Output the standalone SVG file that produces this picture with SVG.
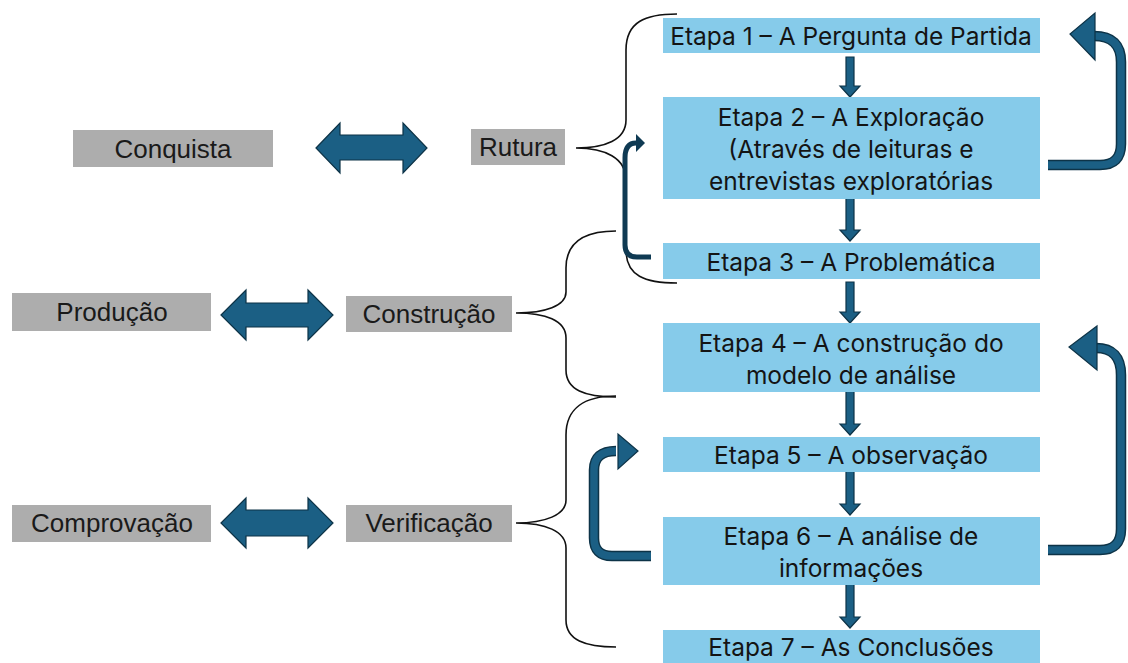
<svg xmlns="http://www.w3.org/2000/svg" width="1128" height="663" viewBox="0 0 1128 663">
<style>
.blue{fill:#86CBEA}
.grey{fill:#ADADAD}
.bt{font-family:Inter,"Open Sans",sans-serif;font-size:24.5px;fill:#141414;text-anchor:middle;dominant-baseline:central}
.gt{font-family:"Liberation Sans",Arial,sans-serif;font-size:26px;fill:#1a1a1a;text-anchor:middle;dominant-baseline:central}
.brace{fill:none;stroke:#111;stroke-width:1.6}
.arr{fill:#1b5f84;stroke:#0d3347;stroke-width:1.2;stroke-linejoin:miter}
.lo{fill:none;stroke:#0d3347;stroke-width:10.5}
.li{fill:none;stroke:#1b5f84;stroke-width:7.5}
.thin{fill:none;stroke:#0f3a53;stroke-width:5}
</style>
<rect width="1128" height="663" fill="#fff"/>
<g id="connectors">
<path class="brace" d="M677,14 C645,14 626,22 626,50 L626,120 C626,140 605,148 576,148 C605,148 626,158 626,180 L626,250 C626,276 645,283 677,283"/>
<path class="brace" d="M616,231 C585,231 566,242 566,268 L566,292 C566,306 545,313 516,313 C545,313 566,320 566,338 L566,370 C566,390 585,397 616,397"/>
<path class="brace" d="M616,396 C585,396 566,408 566,435 L566,500 C566,515 545,523 516,523 C545,523 566,531 566,548 L566,620 C566,640 585,647 616,647"/>
<polygon class="arr" points="316,148 340,123 340,135 403,135 403,123 427,148 403,173 403,160 340,160 340,173"/>
<polygon class="arr" points="221,315 246,290 246,303 308,303 308,290 333,315 308,340 308,327 246,327 246,340"/>
<polygon class="arr" points="221,523 246,498 246,510 308,510 308,498 333,523 308,548 308,536 246,536 246,548"/>
<polygon class="arr" points="846,57 854,57 854,86 860,86 850,97 840,86 846,86"/>
<polygon class="arr" points="846,196 854,196 854,230 860,230 850,241 840,230 846,230"/>
<polygon class="arr" points="846,282 854,282 854,312 860,312 850,323 840,312 846,312"/>
<polygon class="arr" points="846,390 854,390 854,424 860,424 850,435 840,424 846,424"/>
<polygon class="arr" points="846,469 854,469 854,504 860,504 850,515 840,504 846,504"/>
<polygon class="arr" points="846,582 854,582 854,617 860,617 850,628 840,617 846,617"/>
<path class="lo" d="M1048,165 H1100 Q1121,165 1121,144 V62 Q1121,36 1094,36"/>
<path class="li" d="M1048,165 H1100 Q1121,165 1121,144 V62 Q1121,36 1094,36"/>
<polygon class="arr" points="1095,13 1095,60 1070,34"/>
<path class="lo" d="M1048,550 H1100 Q1121,550 1121,529 V375 Q1121,348 1096,348"/>
<path class="li" d="M1048,550 H1100 Q1121,550 1121,529 V375 Q1121,348 1096,348"/>
<polygon class="arr" points="1097,326 1097,370 1069,347"/>
<path class="lo" d="M651,556 H612 Q594,556 594,538 V470 Q594,451 616,451"/>
<path class="li" d="M651,556 H612 Q594,556 594,538 V470 Q594,451 616,451"/>
<polygon class="arr" points="618,434 618,469 638,451"/>
<path class="thin" d="M651,257 H637 Q625,257 625,245 V158 Q625,143 636,143"/>
<polygon fill="#0f3a53" points="636,134 636,152 645,143"/>
</g>
<g id="conquista"><rect class="grey" x="73" y="130" width="200" height="37"/><text class="gt" x="173" y="149">Conquista</text></g>
<g id="rutura"><rect class="grey" x="471" y="129" width="94" height="36"/><text class="gt" x="518" y="147">Rutura</text></g>
<g id="producao"><rect class="grey" x="12" y="293" width="199" height="38"/><text class="gt" x="112" y="312">Produção</text></g>
<g id="construcao"><rect class="grey" x="346" y="296" width="166" height="36"/><text class="gt" x="429" y="314">Construção</text></g>
<g id="comprovacao"><rect class="grey" x="12" y="505" width="199" height="37"/><text class="gt" x="112" y="523">Comprovação</text></g>
<g id="verificacao"><rect class="grey" x="346" y="505" width="166" height="37"/><text class="gt" x="429" y="523">Verificação</text></g>
<g id="etapa1"><rect class="blue" x="663" y="18" width="377" height="35"/><text class="bt" x="851" y="36">Etapa 1 – A Pergunta de Partida</text></g>
<g id="etapa2"><rect class="blue" x="663" y="97" width="377" height="102"/><text class="bt" x="851" y="117">Etapa 2 – A Exploração</text><text class="bt" x="851" y="149">(Através de leituras e</text><text class="bt" x="851" y="181">entrevistas exploratórias</text></g>
<g id="etapa3"><rect class="blue" x="663" y="243" width="377" height="36"/><text class="bt" x="851" y="262">Etapa 3 – A Problemática</text></g>
<g id="etapa4"><rect class="blue" x="663" y="323" width="377" height="69"/><text class="bt" x="851" y="343">Etapa 4 – A construção do</text><text class="bt" x="851" y="375">modelo de análise</text></g>
<g id="etapa5"><rect class="blue" x="663" y="437" width="377" height="35"/><text class="bt" x="851" y="455">Etapa 5 – A observação</text></g>
<g id="etapa6"><rect class="blue" x="663" y="517" width="377" height="68"/><text class="bt" x="851" y="536">Etapa 6 – A análise de</text><text class="bt" x="851" y="568">informações</text></g>
<g id="etapa7"><rect class="blue" x="663" y="630" width="377" height="40"/><text class="bt" x="851" y="647">Etapa 7 – As Conclusões</text></g>
</svg>
